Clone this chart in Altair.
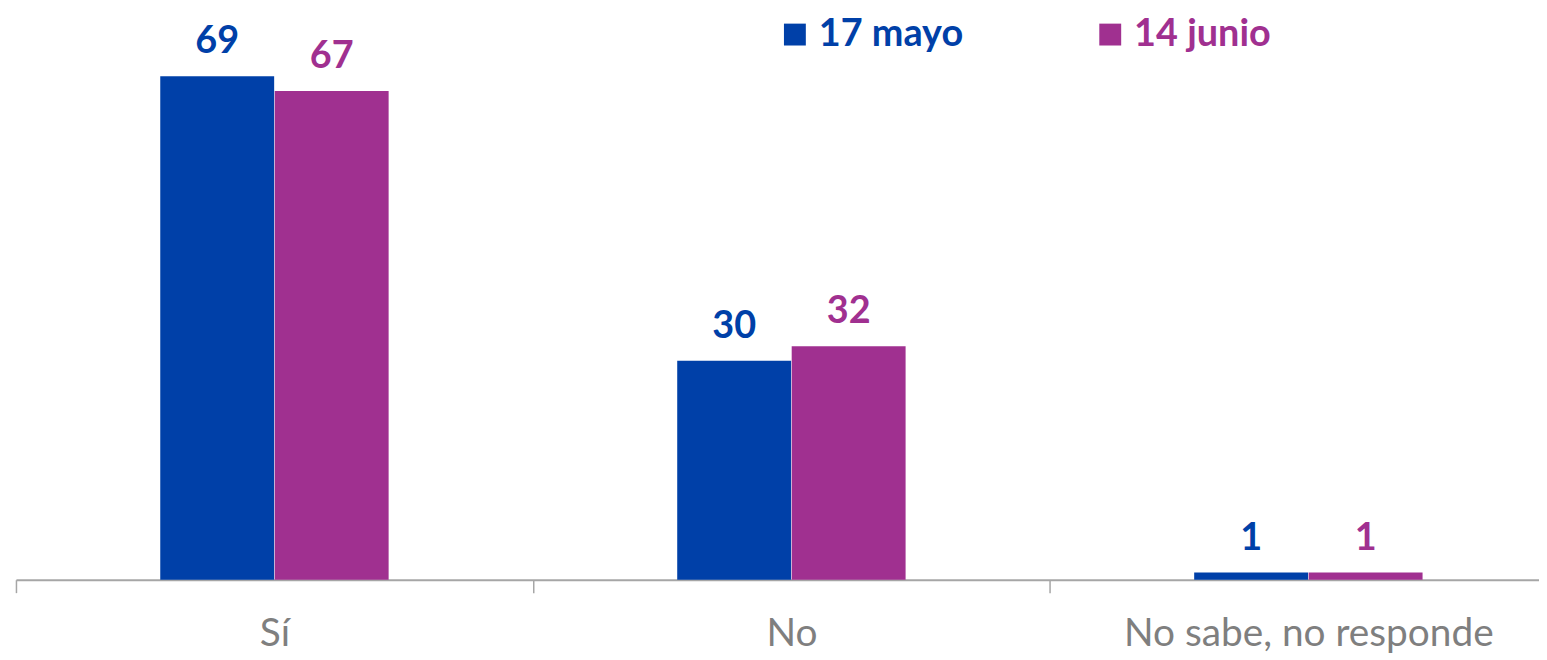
import altair as alt
import pandas as pd

categories = ["Sí", "No", "No sabe, no responde"]
series = ["17 mayo", "14 junio"]
mayo = [69, 30, 1]
junio = [67, 32, 1]
colors = ["#0040A8", "#A03090"]

rows = []
for c, a, b in zip(categories, mayo, junio):
    rows.append({"cat": c, "serie": series[0], "valor": a})
    rows.append({"cat": c, "serie": series[1], "valor": b})
df = pd.DataFrame(rows)

FONT = "Lato"

x = alt.X("cat:N", sort=categories, title=None,
          scale=alt.Scale(range=[0, 1559], paddingInner=0, paddingOuter=0),
          axis=alt.Axis(labelAngle=0, labelFont=FONT, labelFontSize=39, labelColor="#7F7F7F",
                        labelBaseline="alphabetic", labelPadding=53, tickBand="extent",
                        labelLimit=600,
                        tickSize=13, tickColor="#A6A6A6", tickWidth=1.5,
                        domainColor="#A6A6A6", domainWidth=2))
xo = alt.XOffset("serie:N",
                 scale=alt.Scale(domain=["_a"] + series + ["_b"], paddingInner=0, paddingOuter=0.258))
y = alt.Y("valor:Q", scale=alt.Scale(domain=[0, 78]), axis=None)
color = alt.Color("serie:N", sort=series,
                  scale=alt.Scale(domain=series, range=colors),
                  legend=alt.Legend(title=None, orient="none", legendX=764, legendY=5,
                                    direction="horizontal", symbolType="square",
                                    symbolSize=484, symbolStrokeWidth=0,
                                    labelFont=FONT, labelFontSize=38, labelFontWeight="bold",
                                    labelColor={"expr": "datum.value == '17 mayo' ? '#0040A8' : '#A03090'"},
                                    labelOffset=5, columnPadding=128, labelLimit=400))

base = alt.Chart(df).encode(x=x, xOffset=xo, y=y)
bars = base.mark_bar(size=114.5).encode(color=color)
labels = base.mark_text(font=FONT, fontSize=38, fontWeight="bold", baseline="alphabetic",
                        dy=-23).encode(text="valor:Q", color=alt.Color("serie:N", sort=series, legend=None,
                                                                       scale=alt.Scale(domain=series, range=colors)))

chart = (bars + labels).properties(
    width=1531, height=572,
    padding={"left": 8, "top": 1, "right": 0, "bottom": 80},
    autosize=alt.AutoSizeParams(type="none"),
).configure_view(stroke=None)

chart.save("out.html", embed_options={"renderer": "svg", "actions": False})
